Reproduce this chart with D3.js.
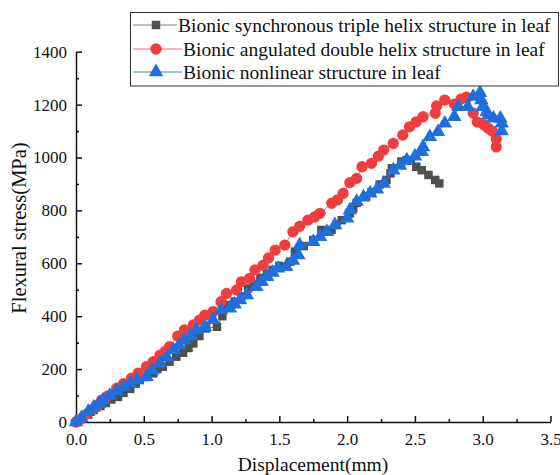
<!DOCTYPE html>
<html>
<head>
<meta charset="utf-8">
<script src="https://cdn.jsdelivr.net/npm/d3@7"></script>
<style>
  html, body { margin: 0; padding: 0; background: #fff; }
  svg { display: block; font-family: "Liberation Serif", "Times New Roman", serif; }
</style>
</head>
<body>
<svg id="chart" width="560" height="475"></svg>
<script>
// Displacement (mm) / flexural stress (MPa) readings for each specimen
const tripleHelix = [
  [0.00,0],[0.05,15],[0.09,28],[0.13,45],[0.18,60],[0.22,72],[0.26,85],[0.31,95],
  [0.35,110],[0.40,125],[0.44,145],[0.47,159],[0.52,170],[0.57,184],[0.60,200],
  [0.64,209],[0.69,228],[0.74,247],[0.79,262],[0.83,280],[0.865,297],[0.91,325],
  [0.96,354],[1.04,360],[1.08,400],[1.12,442],[1.17,455],[1.22,475],[1.27,505],
  [1.31,520],[1.36,545],[1.41,560],[1.45,575],[1.50,590],[1.58,606],[1.615,644],
  [1.68,665],[1.75,688],[1.81,726],[1.885,726],[1.92,745],[1.96,763],[2.02,789],
  [2.045,808],[2.07,828],[2.14,854],[2.18,869],[2.24,898],[2.29,915],[2.32,940],
  [2.33,959],[2.40,985],[2.44,990],[2.47,988],[2.51,965],[2.55,952],[2.60,934],
  [2.65,915],[2.68,902]
];
const doubleHelix = [
  [0.00,0],[0.04,12],[0.08,30],[0.12,48],[0.16,65],[0.19,83],[0.24,100],[0.30,128],
  [0.35,145],[0.41,166],[0.46,185],[0.52,209],[0.57,228],[0.62,253],[0.66,268],
  [0.69,285],[0.75,325],[0.80,348],[0.865,367],[0.91,385],[0.95,404],[1.01,417],
  [1.07,455],[1.11,486],[1.185,499],[1.22,530],[1.28,543],[1.32,575],[1.38,593],
  [1.42,620],[1.47,650],[1.54,669],[1.60,719],[1.65,740],[1.71,763],[1.76,775],
  [1.80,789],[1.886,827],[1.93,840],[1.97,864],[2.02,905],[2.07,921],[2.11,965],
  [2.18,978],[2.23,1005],[2.27,1028],[2.34,1053],[2.41,1085],[2.46,1116],[2.51,1135],
  [2.56,1154],[2.65,1167],[2.66,1195],[2.72,1217],[2.79,1202],[2.84,1221],[2.88,1228],
  [2.93,1168],[2.96,1134],[3.01,1123],[3.04,1111],[3.07,1100],[3.10,1070],[3.10,1040]
];
const nonlinear = [
  [0.00,0],[0.04,15],[0.09,39],[0.13,55],[0.17,70],[0.20,83],[0.25,100],[0.30,118],
  [0.35,133],[0.40,145],[0.45,159],[0.52,171],[0.56,195],[0.62,222],[0.67,245],
  [0.72,272],[0.76,290],[0.80,310],[0.85,328],[0.89,348],[0.95,360],[1.01,386],
  [1.07,423],[1.135,430],[1.17,445],[1.21,461],[1.26,480],[1.33,511],[1.37,530],
  [1.41,549],[1.45,565],[1.49,581],[1.55,587],[1.60,610],[1.64,631],[1.65,669],
  [1.75,681],[1.80,700],[1.85,719],[1.91,745],[2.00,770],[2.02,801],[2.07,833],
  [2.12,850],[2.17,865],[2.22,880],[2.27,902],[2.34,952],[2.39,970],[2.44,990],
  [2.50,1005],[2.55,1022],[2.56,1040],[2.61,1078],[2.67,1097],[2.72,1129],[2.79,1154],
  [2.82,1192],[2.89,1192],[2.93,1230],[2.98,1245],[2.99,1217],[3.00,1192],[3.03,1173],
  [3.04,1160],[3.08,1148],[3.13,1148],[3.14,1129],[3.14,1100]
];

const seriesNames = [
  "Bionic synchronous triple helix structure in leaf",
  "Bionic angulated double helix structure in leaf",
  "Bionic nonlinear structure in leaf"
];
const seriesColors = ["#4f4f4f", "#f03d3d", "#1f6fdc"];
const lineColors = ["#7a7a7a", "#f36a6a", "#3b80e0"];
const seriesSymbols = [d3.symbolSquare, d3.symbolCircle, d3.symbolTriangle];
const symbolSizes = [72, 100, 92];

const xTicks = [0, 0.5, 1.0, 1.5, 2.0, 2.5, 3.0, 3.5];
const xMinorTicks = [0.25, 0.75, 1.25, 1.75, 2.25, 2.75, 3.25];
const yTicks = [0, 200, 400, 600, 800, 1000, 1200, 1400];
const yMinorTicks = [100, 300, 500, 700, 900, 1100, 1300];

const svg = d3.select("#chart");
const x = d3.scaleLinear().domain([0, 3.5]).range([76, 550.5]);
const y = d3.scaleLinear().domain([0, 1400]).range([422, 51.7]);

// axes with inward ticks
svg.append("g").attr("transform", `translate(0,${y(0)})`)
  .call(d3.axisBottom(x).tickValues(xTicks).tickFormat(d3.format(".1f"))
    .tickSizeInner(-6).tickSizeOuter(0).tickPadding(11));
svg.append("g").attr("transform", `translate(0,${y(0)})`)
  .call(d3.axisBottom(x).tickValues(xMinorTicks).tickFormat("")
    .tickSizeInner(-3).tickSizeOuter(0))
  .call(g => g.select(".domain").remove());
svg.append("g").attr("transform", `translate(${x(0)},0)`)
  .call(d3.axisLeft(y).tickValues(yTicks).tickFormat(d3.format("d"))
    .tickSizeInner(-6).tickSizeOuter(0).tickPadding(9));
svg.append("g").attr("transform", `translate(${x(0)},0)`)
  .call(d3.axisLeft(y).tickValues(yMinorTicks).tickFormat("")
    .tickSizeInner(-3).tickSizeOuter(0))
  .call(g => g.select(".domain").remove());

svg.selectAll(".domain, .tick line").attr("stroke", "#111").attr("stroke-width", 1.5);
svg.selectAll(".tick text").attr("font-family", "Liberation Serif")
  .attr("font-size", 17).attr("fill", "#111");

// axis titles
svg.append("text").attr("x", 313).attr("y", 471).attr("text-anchor", "middle")
  .attr("font-size", 19.5).attr("fill", "#111").text("Displacement(mm)");
svg.append("text").attr("transform", "translate(26,228) rotate(-90)")
  .attr("text-anchor", "middle").attr("font-size", 20.5).attr("fill", "#111")
  .text("Flexural stress(MPa)");

// series: connecting line then markers
const allSeries = [tripleHelix, doubleHelix, nonlinear];
const line = d3.line().x(d => x(d[0])).y(d => y(d[1]));
allSeries.forEach((data, i) => {
  const g = svg.append("g");
  g.append("path").datum(data).attr("d", line)
    .attr("fill", "none").attr("stroke", lineColors[i]).attr("stroke-width", 1);
  g.selectAll("path.pt").data(data).enter().append("path").attr("class", "pt")
    .attr("transform", d => `translate(${x(d[0])},${y(d[1])})`)
    .attr("d", d3.symbol().type(seriesSymbols[i]).size(symbolSizes[i]))
    .attr("fill", seriesColors[i]);
});

// legend
const legend = svg.append("g");
legend.append("rect").attr("x", 130.5).attr("y", 12.5).attr("width", 428).attr("height", 73.5)
  .attr("fill", "#fff").attr("stroke", "#333").attr("stroke-width", 1);
const rowY = [25, 49, 72];
const textX = [178, 183, 183];
seriesNames.forEach((name, i) => {
  legend.append("line").attr("x1", 133).attr("x2", textX[i] - 1)
    .attr("y1", rowY[i]).attr("y2", rowY[i])
    .attr("stroke", lineColors[i]).attr("stroke-width", 1);
  legend.append("path").attr("transform", `translate(156,${rowY[i]})`)
    .attr("d", d3.symbol().type(seriesSymbols[i]).size(symbolSizes[i]))
    .attr("fill", seriesColors[i]);
  legend.append("text").attr("x", textX[i]).attr("y", rowY[i]).attr("dy", "0.34em")
    .attr("font-size", 19.5).attr("fill", "#111").text(name);
});
</script>
</body>
</html>
